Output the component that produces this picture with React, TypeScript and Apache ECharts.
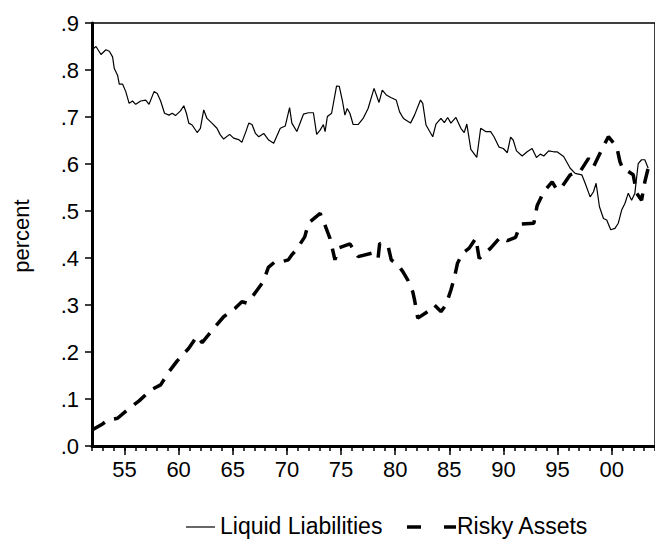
import React, { useEffect, useRef } from "react";
import * as echarts from "echarts";

// Liquid Liabilities (solid) — decimal year, share
const liqYears = [1952.0, 1952.37, 1952.83, 1953.29, 1953.6, 1953.9, 1954.06, 1954.36, 1954.52, 1954.82, 1955.12, 1955.43, 1955.74, 1956.04, 1956.5, 1956.96, 1957.27, 1957.73, 1958.03, 1958.34, 1958.7, 1959.11, 1959.41, 1959.71, 1960.17, 1960.48, 1960.72, 1960.94, 1961.25, 1961.71, 1962.01, 1962.32, 1962.62, 1963.08, 1963.54, 1963.85, 1964.16, 1964.71, 1965.08, 1965.54, 1965.84, 1966.23, 1966.48, 1966.78, 1967.1, 1967.4, 1967.86, 1968.32, 1968.78, 1969.39, 1969.85, 1970.25, 1970.46, 1970.92, 1971.53, 1971.99, 1972.45, 1972.75, 1973.07, 1973.37, 1973.53, 1973.74, 1974.13, 1974.59, 1974.84, 1975.14, 1975.36, 1975.57, 1975.82, 1976.12, 1976.58, 1977.04, 1977.5, 1978.05, 1978.51, 1978.81, 1979.18, 1979.64, 1980.1, 1980.41, 1980.71, 1980.87, 1981.42, 1981.79, 1982.34, 1982.55, 1982.85, 1983.47, 1983.77, 1984.23, 1984.54, 1984.85, 1985.15, 1985.61, 1986.07, 1986.38, 1986.62, 1986.99, 1987.54, 1987.9, 1988.36, 1988.82, 1989.13, 1989.59, 1989.99, 1990.36, 1990.66, 1990.9, 1991.21, 1991.73, 1992.19, 1992.65, 1993.05, 1993.41, 1993.73, 1994.18, 1994.64, 1994.95, 1995.56, 1996.17, 1996.63, 1997.24, 1997.55, 1998.01, 1998.32, 1998.56, 1998.87, 1999.24, 1999.54, 1999.91, 2000.3, 2000.61, 2000.92, 2001.22, 2001.53, 2001.84, 2002.14, 2002.45, 2002.76, 2003.06, 2003.37];
const liqValues = [0.843, 0.85, 0.833, 0.843, 0.84, 0.828, 0.803, 0.789, 0.77, 0.77, 0.754, 0.729, 0.734, 0.727, 0.734, 0.736, 0.727, 0.754, 0.75, 0.734, 0.708, 0.704, 0.708, 0.703, 0.713, 0.724, 0.708, 0.687, 0.683, 0.667, 0.676, 0.715, 0.697, 0.687, 0.676, 0.662, 0.653, 0.663, 0.655, 0.652, 0.646, 0.67, 0.687, 0.684, 0.665, 0.658, 0.665, 0.651, 0.644, 0.676, 0.681, 0.72, 0.687, 0.669, 0.706, 0.709, 0.709, 0.663, 0.672, 0.684, 0.669, 0.701, 0.708, 0.766, 0.765, 0.733, 0.704, 0.718, 0.708, 0.684, 0.684, 0.697, 0.718, 0.761, 0.731, 0.757, 0.747, 0.741, 0.736, 0.711, 0.699, 0.695, 0.687, 0.704, 0.736, 0.729, 0.683, 0.658, 0.685, 0.697, 0.688, 0.699, 0.687, 0.699, 0.676, 0.667, 0.685, 0.631, 0.614, 0.676, 0.669, 0.669, 0.658, 0.636, 0.633, 0.624, 0.657, 0.651, 0.628, 0.617, 0.626, 0.633, 0.614, 0.621, 0.617, 0.628, 0.626, 0.626, 0.616, 0.591, 0.58, 0.577, 0.559, 0.53, 0.541, 0.559, 0.509, 0.484, 0.481, 0.46, 0.463, 0.474, 0.502, 0.516, 0.538, 0.523, 0.538, 0.601, 0.609, 0.609, 0.591];

// Risky Assets (dashed)
const riskYears = [1952.0, 1952.98, 1953.44, 1954.36, 1955.28, 1956.35, 1957.42, 1958.34, 1959.11, 1959.87, 1960.94, 1961.71, 1962.17, 1963.24, 1964.16, 1965.22, 1965.84, 1966.3, 1966.91, 1967.83, 1968.29, 1968.9, 1969.51, 1970.13, 1970.43, 1970.89, 1971.65, 1971.99, 1973.07, 1973.52, 1973.98, 1974.44, 1974.75, 1975.82, 1976.58, 1977.96, 1978.42, 1978.57, 1979.34, 1979.64, 1980.26, 1980.71, 1981.17, 1981.63, 1981.79, 1982.09, 1983.01, 1983.62, 1984.23, 1984.69, 1985.15, 1985.46, 1985.76, 1986.22, 1986.84, 1987.45, 1987.76, 1988.82, 1989.74, 1990.36, 1991.12, 1991.58, 1992.81, 1993.11, 1993.73, 1994.5, 1994.95, 1995.41, 1996.17, 1997.09, 1997.86, 1998.32, 1998.92, 1999.69, 2000.46, 2000.76, 2001.07, 2001.53, 2001.99, 2002.3, 2002.76, 2003.06, 2003.37];
const riskValues = [0.034, 0.047, 0.055, 0.059, 0.077, 0.096, 0.119, 0.13, 0.158, 0.181, 0.208, 0.234, 0.22, 0.25, 0.275, 0.293, 0.307, 0.304, 0.321, 0.35, 0.38, 0.392, 0.392, 0.396, 0.406, 0.418, 0.445, 0.474, 0.495, 0.47, 0.442, 0.396, 0.421, 0.43, 0.403, 0.411, 0.399, 0.431, 0.426, 0.396, 0.385, 0.371, 0.353, 0.328, 0.311, 0.272, 0.286, 0.3, 0.286, 0.3, 0.332, 0.357, 0.389, 0.41, 0.421, 0.442, 0.399, 0.421, 0.445, 0.437, 0.444, 0.472, 0.474, 0.511, 0.541, 0.562, 0.545, 0.552, 0.577, 0.584, 0.612, 0.594, 0.623, 0.658, 0.637, 0.605, 0.587, 0.584, 0.577, 0.538, 0.523, 0.562, 0.591];

const labelYears = [1955, 1960, 1965, 1970, 1975, 1980, 1985, 1990, 1995, 2000];
const seriesNames = ["Liquid Liabilities", "Risky Assets"];
const yTitle = "percent";

const FONT = "'Liberation Sans', Arial, Helvetica, sans-serif";

export default function App() {
  const ref = useRef<HTMLDivElement>(null);
  useEffect(() => {
    if (!ref.current) return;
    const chart = echarts.init(ref.current, null, { renderer: "svg" });
    const allYears: number[] = [];
    for (let y = 1952; y <= 2004; y++) allYears.push(y);
    const grid = { left: 92, top: 23, width: 566, height: 423, show: true, borderColor: "#000", borderWidth: 1.5 };
    chart.setOption({
      animation: false,
      backgroundColor: "#fff",
      grid,
      xAxis: [
        {
          type: "value",
          min: 1952,
          max: 2004,
          interval: 1,
          axisLine: { show: true, lineStyle: { color: "#000", width: 3 } },
          axisTick: { show: true, length: 5, lineStyle: { color: "#000", width: 1.5 }, customValues: allYears },
          axisLabel: {
            customValues: labelYears,
            margin: 12,
            color: "#000",
            fontSize: 22,
            fontFamily: FONT,
            formatter: (v: number) => String(Math.round(v) % 100).padStart(2, "0"),
          },
          splitLine: { show: false },
        },
        {
          type: "value",
          min: 1952,
          max: 2004,
          interval: 1,
          position: "bottom",
          axisLine: { show: false },
          axisTick: { show: true, length: 9, lineStyle: { color: "#000", width: 1.5 }, customValues: labelYears },
          axisLabel: { show: false },
          splitLine: { show: false },
        },
      ],
      yAxis: {
        type: "value",
        min: 0,
        max: 0.9,
        interval: 0.1,
        axisLine: { show: true, lineStyle: { color: "#000", width: 3 } },
        axisTick: { show: true, length: 7, lineStyle: { color: "#000", width: 1.5 } },
        axisLabel: {
          margin: 13,
          color: "#000",
          fontSize: 22,
          fontFamily: FONT,
          formatter: (v: number) => v.toFixed(1).replace(/^0/, ""),
        },
        splitLine: { show: false },
      },
      series: [
        {
          name: seriesNames[0],
          type: "line",
          data: liqYears.map((x, i) => [x, liqValues[i]]),
          showSymbol: false,
          lineStyle: { color: "#000", width: 1.2 },
          z: 3,
        },
        {
          name: seriesNames[1],
          type: "line",
          data: riskYears.map((x, i) => [x, riskValues[i]]),
          showSymbol: false,
          lineStyle: { color: "#000", width: 3.5, type: [15, 10], cap: "butt" },
          z: 2,
        },
      ],
      graphic: [
        {
          type: "text",
          rotation: Math.PI / 2,
          x: 21,
          y: 236,
          style: { text: yTitle, fill: "#000", font: `22px ${FONT}`, align: "center", verticalAlign: "middle" },
        },
        {
          type: "line",
          shape: { x1: 186, y1: 527, x2: 215, y2: 527 },
          style: { stroke: "#000", lineWidth: 1.2 },
        },
        {
          type: "text",
          x: 220,
          y: 526,
          style: { text: seriesNames[0], fill: "#000", font: `23px ${FONT}`, align: "left", verticalAlign: "middle" },
        },
        {
          type: "line",
          shape: { x1: 407, y1: 527, x2: 456, y2: 527 },
          style: { stroke: "#000", lineWidth: 3.5, lineDash: [14, 23] },
        },
        {
          type: "text",
          x: 457,
          y: 526,
          style: { text: seriesNames[1], fill: "#000", font: `23px ${FONT}`, align: "left", verticalAlign: "middle" },
        },
      ],
    });
    return () => chart.dispose();
  }, []);
  return <div ref={ref} style={{ position: "fixed", left: 0, top: 0, width: 655, height: 540 }} />;
}
